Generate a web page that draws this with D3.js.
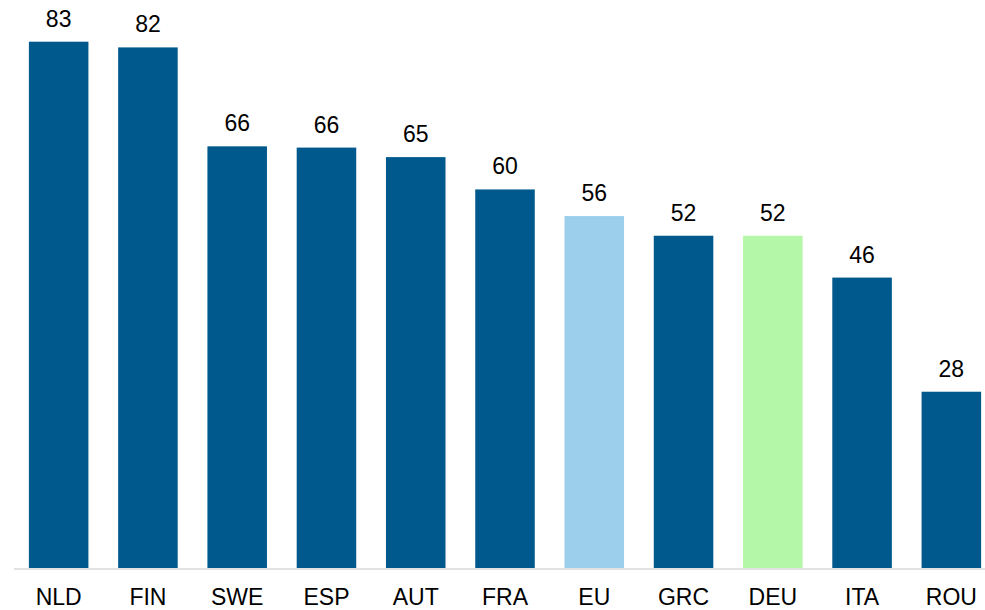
<!DOCTYPE html>
<html>
<head>
<meta charset="utf-8">
<script src="https://cdn.jsdelivr.net/npm/d3@7"></script>
<style>
  body { margin: 0; background: #fff; }
  text { font-family: "Liberation Sans", Arial, sans-serif; fill: #000; }
</style>
</head>
<body>
<div id="chart"></div>
<script>
// values
let countries = ["NLD", "FIN", "SWE", "ESP", "AUT", "FRA", "EU", "GRC", "DEU", "ITA", "ROU"];
let values = [83.0, 82.1, 66.5, 66.3, 64.8, 59.7, 55.5, 52.4, 52.4, 45.8, 27.8];
let labels = ["83", "82", "66", "66", "65", "60", "56", "52", "52", "46", "28"];
let colours = {EU: "#9ccfec", DEU: "#b5f7a8"};
let baseColour = "#00598c";

let svgWidth = 985;
let svgHeight = 610;
let svg = d3.select("#chart")
    .append("svg")
    .attr("width", svgWidth)
    .attr("height", svgHeight);

let data = countries.map((c, i) => ({country: c, value: values[i], label: labels[i]}));

let xScale = d3.scaleBand()
    .domain(countries)
    .range([14, 996])
    .paddingInner(0.333)
    .paddingOuter(0.1667);

let yScale = d3.scaleLinear()
    .domain([0, 83])
    .range([568, 41.7]);

// bars
svg.selectAll("rect.bar")
    .data(data)
    .enter()
    .append("rect")
    .attr("class", "bar")
    .attr("x", d => xScale(d.country))
    .attr("y", d => yScale(d.value))
    .attr("width", xScale.bandwidth())
    .attr("height", d => yScale(0) - yScale(d.value))
    .attr("fill", d => colours[d.country] || baseColour);

// value labels
svg.selectAll("text.val")
    .data(data)
    .enter()
    .append("text")
    .attr("class", "val")
    .attr("x", d => xScale(d.country) + xScale.bandwidth() / 2)
    .attr("y", d => yScale(d.value) - 15)
    .attr("text-anchor", "middle")
    .style("font-size", "23px")
    .text(d => d.label);

// x axis
let xAxis = d3.axisBottom(xScale).tickSize(0).tickPadding(20);
let axisG = svg.append("g")
    .attr("transform", "translate(0,569)")
    .call(xAxis);
axisG.select(".domain").remove();
axisG.append("line")
    .attr("x1", 14)
    .attr("x2", 985)
    .attr("stroke", "#d9d9d9")
    .attr("stroke-width", 1.5);
axisG.selectAll("text")
    .style("font-size", "23px")
    .style("font-family", "Liberation Sans, Arial, sans-serif")
    .attr("fill", "#000");
</script>
</body>
</html>
